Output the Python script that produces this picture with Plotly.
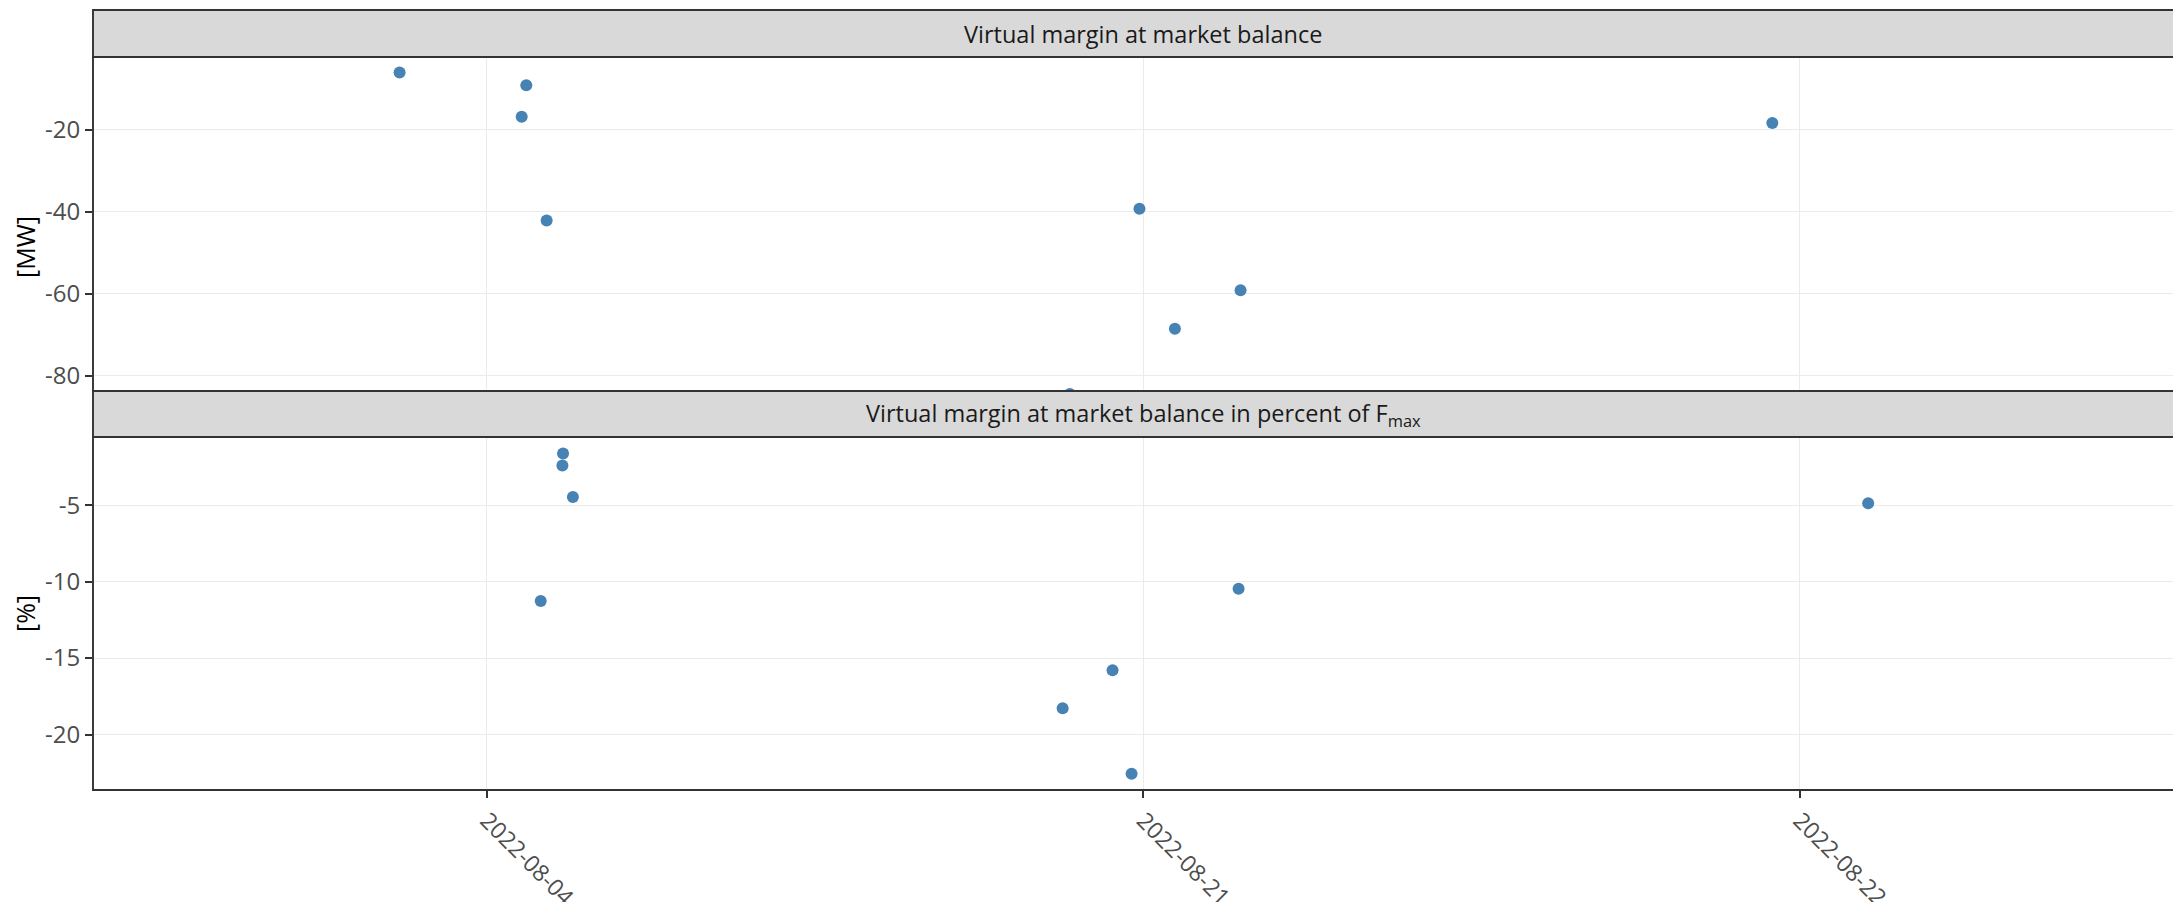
import plotly.graph_objects as go

# ---- data ----
categories = ["2022-08-04", "2022-08-21", "2022-08-22"]

# Virtual margin at market balance [MW]
mw_cat = [1, 1, 1, 1, 2, 2, 2, 2, 3]
mw_jitter = [-0.133, 0.060, 0.053, 0.091, -0.006, 0.148, 0.048, -0.112, -0.042]
mw_values = [-6.0, -9.1, -16.8, -42.1, -39.2, -59.1, -68.5, -84.4, -18.3]
mw_ticks = [-20, -40, -60, -80]

# Virtual margin at market balance in percent of Fmax [%]
pct_cat = [1, 1, 1, 1, 2, 2, 2, 2, 3]
pct_jitter = [0.116, 0.115, 0.131, 0.082, 0.145, -0.047, -0.123, -0.018, 0.104]
pct_values = [-1.62, -2.41, -4.46, -11.27, -10.47, -15.79, -18.28, -22.57, -4.88]
pct_ticks = [-5, -10, -15, -20]

strip_titles = ["Virtual margin at market balance",
                "Virtual margin at market balance in percent of F<sub>max</sub>"]
y_titles = ["[MW]", "[%]"]

# ---- styling / layout ----
W, H = 2165, 894          # fits the window with the page's 8px body margin
ML, MR, MT, MB = 85, 0, 2, 112
plot_h = H - MT - MB


def py(px):
    return 1 - (px - MT) / plot_h


top_dom = [py(429), py(49)]     # lower part hidden under the second strip
top_vis = [py(383), py(49)]
bot_dom = [py(782), py(429)]
strip_top = [py(49), py(2)]
strip_bot = [py(429), py(383)]

POINT = "#4682B4"
GRID = "#EBEBEB"
BORDER = "#333333"
STRIP = "#D9D9D9"
TICKC = "#4D4D4D"
FONT = "Open Sans"

fig = go.Figure()
fig.add_trace(go.Scatter(
    x=[c + j for c, j in zip(mw_cat, mw_jitter)], y=mw_values,
    mode="markers", marker=dict(color=POINT, size=12, line=dict(width=0)),
    xaxis="x", yaxis="y", showlegend=False))
fig.add_trace(go.Scatter(
    x=[c + j for c, j in zip(pct_cat, pct_jitter)], y=pct_values,
    mode="markers", marker=dict(color=POINT, size=12, line=dict(width=0)),
    xaxis="x2", yaxis="y2", showlegend=False))

xr = [0.4, 0.4 + (W - ML - MR) / 656.5]
ytickfont = dict(family=FONT, size=24, color=TICKC)
xtickfont = dict(family=FONT, size=23, color=TICKC)
titlefont = dict(family=FONT, size=25, color="#000000")

common_x = dict(range=xr, tickvals=[1, 2, 3], ticktext=categories,
                showgrid=True, gridcolor=GRID, gridwidth=1, zeroline=False,
                showline=False, domain=[0, 1], fixedrange=True)
common_y = dict(ticks="outside", ticklen=7, tickwidth=1.5, tickcolor=BORDER,
                tickfont=ytickfont, showgrid=True, gridcolor=GRID, gridwidth=1,
                zeroline=False, automargin=False)

fig.update_layout(
    width=W, height=H, autosize=False,
    margin=dict(l=ML, r=MR, t=MT, b=MB, pad=0),
    paper_bgcolor="white", plot_bgcolor="white",
    font=dict(family=FONT),
    xaxis=dict(**common_x, anchor="y", showticklabels=False, ticks=""),
    xaxis2=dict(**common_x, anchor="y2", matches="x", showticklabels=True,
                ticks="outside", ticklen=7, tickwidth=1.5, tickcolor=BORDER,
                tickangle=45, tickfont=xtickfont, automargin=False),
    yaxis=dict(**common_y, domain=top_dom, range=[-94.88, -2.2], anchor="x",
               tickvals=mw_ticks, ticktext=[str(v) for v in mw_ticks],
               title=dict(text=y_titles[0], font=titlefont, standoff=7)),
    yaxis2=dict(**common_y, domain=bot_dom, range=[-23.63, -0.54], anchor="x2",
                tickvals=pct_ticks, ticktext=[str(v) for v in pct_ticks],
                title=dict(text=y_titles[1], font=titlefont, standoff=7)),
)

shapes = []
# strips (drawn above, hiding the lower part of the top panel)
for dom in (strip_top, strip_bot):
    shapes.append(dict(type="rect", xref="paper", yref="paper",
                       x0=0, x1=1.02, y0=dom[0], y1=dom[1],
                       line=dict(color=BORDER, width=1.9),
                       fillcolor=STRIP, layer="above"))
# panel borders
for dom in (top_vis, bot_dom):
    shapes.append(dict(type="rect", xref="paper", yref="paper",
                       x0=0, x1=1.02, y0=dom[0], y1=dom[1],
                       line=dict(color=BORDER, width=1.9),
                       fillcolor="rgba(0,0,0,0)", layer="above"))
fig.update_layout(shapes=shapes)

annotations = []
for txt, dom in zip(strip_titles, (strip_top, strip_bot)):
    annotations.append(dict(text=txt, x=2, xref="x", y=(dom[0] + dom[1]) / 2,
                            yref="paper", showarrow=False, xanchor="center",
                            yanchor="middle",
                            font=dict(family=FONT, size=23.5, color="#1A1A1A")))
fig.update_layout(annotations=annotations)

fig.write_html("out.html")
